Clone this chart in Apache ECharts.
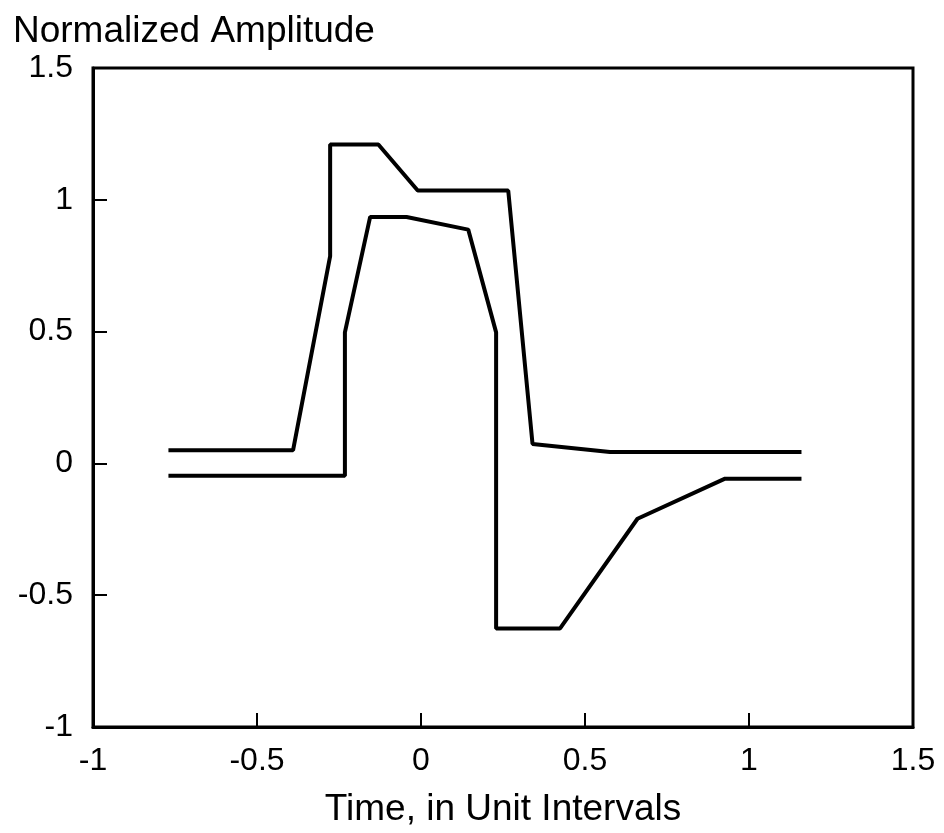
<!DOCTYPE html>
<html>
<head>
<meta charset="utf-8">
<script src="https://cdn.jsdelivr.net/npm/echarts@6/dist/echarts.min.js"></script>
<style>
html,body{margin:0;padding:0;background:#fff;}
#chart{width:944px;height:833px;}
</style>
</head>
<body>
<div id="chart"></div>
<script>
// Upper trace
var upperX = [-0.77, -0.39, -0.277, -0.277, -0.13, -0.01, 0.266, 0.34, 0.576, 1.16];
var upperY = [0.05, 0.05, 0.786, 1.21, 1.21, 1.035, 1.035, 0.074, 0.043, 0.043];
// Lower trace
var lowerX = [-0.77, -0.232, -0.232, -0.155, -0.044, 0.144, 0.229, 0.229, 0.424, 0.66, 0.927, 1.16];
var lowerY = [-0.047, -0.047, 0.497, 0.935, 0.935, 0.887, 0.497, -0.626, -0.626, -0.21, -0.058, -0.058];

var xTitle = 'Time, in Unit Intervals';
var yTitle = 'Normalized Amplitude';

function pairs(xs, ys) {
  return xs.map(function (x, i) { return [x, ys[i]]; });
}

var FONT = 'Liberation Sans';
var chart = echarts.init(document.getElementById('chart'), null, {renderer: 'canvas'});
chart.setOption({
  animation: false,
  backgroundColor: '#fff',
  title: {
    text: yTitle,
    left: 8,
    top: 8,
    textStyle: {fontFamily: FONT, fontSize: 37, fontWeight: 'normal', color: '#000'}
  },
  grid: {
    left: 93, right: 31, top: 68, bottom: 104,
    show: true, borderColor: '#000', borderWidth: 3, backgroundColor: 'transparent'
  },
  xAxis: {
    type: 'value', min: -1, max: 1.5, interval: 0.5,
    name: xTitle, nameLocation: 'middle', nameGap: 64,
    nameTextStyle: {fontFamily: FONT, fontSize: 37, color: '#000'},
    axisLine: {show: true, onZero: false, lineStyle: {color: '#000', width: 3}},
    axisTick: {show: true, inside: true, length: 14, lineStyle: {color: '#000', width: 2}},
    axisLabel: {fontFamily: FONT, fontSize: 32, color: '#000', margin: 18},
    splitLine: {show: false}
  },
  yAxis: {
    type: 'value', min: -1, max: 1.5, interval: 0.5,
    axisLine: {show: true, onZero: false, lineStyle: {color: '#000', width: 3}},
    axisTick: {show: true, inside: true, length: 14, lineStyle: {color: '#000', width: 2}},
    axisLabel: {fontFamily: FONT, fontSize: 32, color: '#000', margin: 20},
    splitLine: {show: false}
  },
  series: [
    {type: 'line', data: pairs(upperX, upperY), symbol: 'none',
     lineStyle: {color: '#000', width: 4}},
    {type: 'line', data: pairs(lowerX, lowerY), symbol: 'none',
     lineStyle: {color: '#000', width: 4}}
  ]
});
</script>
</body>
</html>
